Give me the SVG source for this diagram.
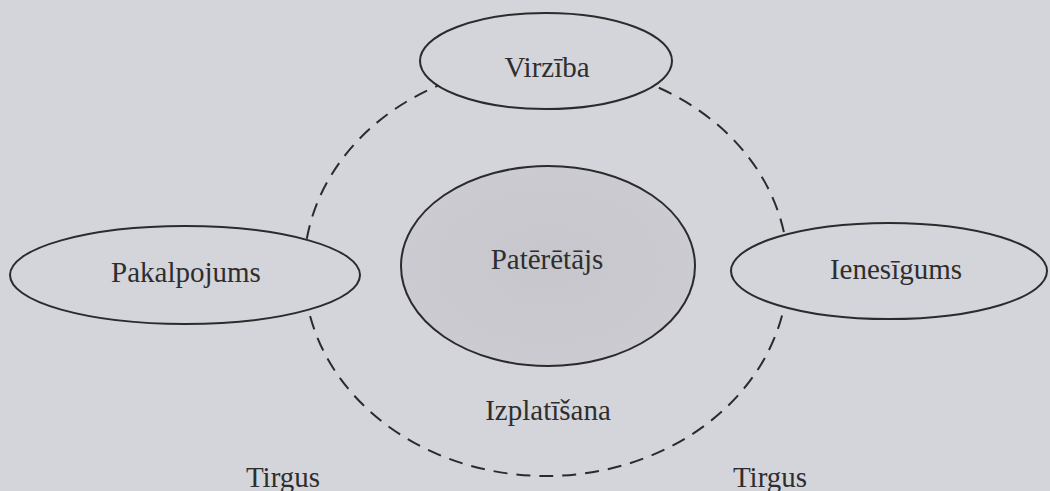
<svg xmlns="http://www.w3.org/2000/svg" width="1050" height="491" viewBox="0 0 1050 491">
<style>
.bg{fill:#d4d4db}
.node{fill:#d4d4db;stroke:#2b2b2b;stroke-width:2}
.core{fill:url(#g);stroke:#2b2b2b;stroke-width:2}
.conn{fill:none;stroke:#2b2b2b;stroke-width:2;stroke-dasharray:14 9}
text{font-family:"Liberation Serif","Times New Roman",serif;font-size:29px;fill:#2e2e2e;text-anchor:middle}
</style>
<defs>
<radialGradient id="g" cx="0.5" cy="0.5" r="0.5">
<stop offset="0" stop-color="#c6c6cc"/>
<stop offset="1" stop-color="#cbcbd1"/>
</radialGradient>
</defs>
<rect class="bg" x="0" y="0" width="1050" height="491"/>
<g id="connectors">
<ellipse class="conn" cx="546" cy="270" rx="242" ry="206"/>
</g>
<g id="virziba">
<ellipse class="node" cx="546" cy="61" rx="126" ry="48"/>
<text x="547" y="77">Virzība</text>
</g>
<g id="pakalpojums">
<ellipse class="node" cx="185" cy="275" rx="175" ry="49"/>
<text x="186" y="282">Pakalpojums</text>
</g>
<g id="ienesigums">
<ellipse class="node" cx="889" cy="271" rx="158" ry="48"/>
<text x="896" y="279">Ienesīgums</text>
</g>
<g id="pateretajs">
<ellipse class="core" cx="548" cy="266" rx="147" ry="100"/>
<text x="547" y="269">Patērētājs</text>
</g>
<g id="izplatisana">
<text x="548" y="420">Izplatīšana</text>
</g>
<g id="tirgus-left">
<text x="283" y="487">Tirgus</text>
</g>
<g id="tirgus-right">
<text x="770" y="487">Tirgus</text>
</g>
</svg>
